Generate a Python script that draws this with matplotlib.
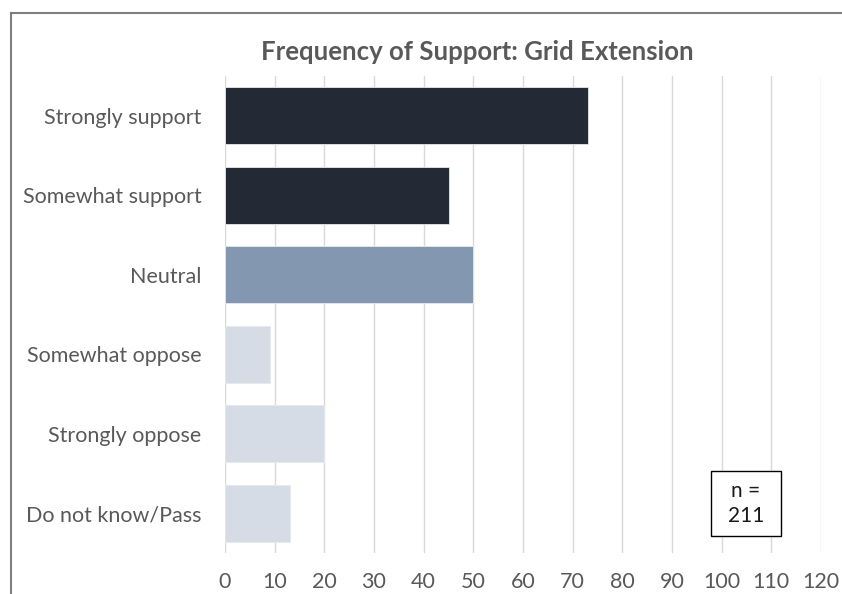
import matplotlib
matplotlib.use("Agg")
import matplotlib.pyplot as plt
from matplotlib.lines import Line2D
from matplotlib.patches import Rectangle

categories = ["Strongly support", "Somewhat support", "Neutral",
              "Somewhat oppose", "Strongly oppose", "Do not know/Pass"]
values = [73, 45, 50, 9, 20, 13]
colors = ["#232a36", "#232a36", "#8497b0", "#d6dce5", "#d6dce5", "#d6dce5"]
xticks = list(range(0, 121, 10))
title = "Frequency of Support: Grid Extension"
note = "n =\n211"

W, H = 842, 594
fig = plt.figure(figsize=(W / 100, H / 100), dpi=100)
plt.rcParams['font.family'] = ['Lato', 'DejaVu Sans']

ax = fig.add_axes([225 / W, 1 - 553 / H, (821 - 225) / W, (553 - 76) / H])
ypos = list(range(len(categories)))
ax.barh(ypos, values, height=0.72, color=colors, edgecolor="#e6e9ee", linewidth=0.6, zorder=3)
ax.set_ylim(len(categories) - 0.5, -0.5)
ax.set_xlim(0, 120)
ax.set_xticks(xticks)
ax.set_xticklabels([str(t) for t in xticks])
ax.set_yticks(ypos)
ax.set_yticklabels(categories)
ax.tick_params(axis="both", length=0, labelsize=15.5, colors="#595959")
ax.tick_params(axis="x", pad=14)
ax.tick_params(axis="y", pad=17)
ax.grid(axis="x", color="#d9d9d9", linewidth=1.0, zorder=0)
ax.set_axisbelow(True)
for s in ax.spines.values():
    s.set_visible(False)

# n box
ax.add_patch(Rectangle((0.8154, 0.0356), 0.1174, 0.136, transform=ax.transAxes,
                       facecolor="white", edgecolor="black", linewidth=1.0, zorder=5))
ax.text(0.874, 0.1035, note, transform=ax.transAxes, ha="center", va="center",
        fontsize=15, color="#1a1a1a", linespacing=1.35, zorder=6)

fig.text(477.5 / W, 1 - 52 / H, title, ha="center", va="center",
         fontsize=18.5, fontweight="bold", color="#595959")

# outer frame lines (top and left)
fig.add_artist(Line2D([11 / W, 1], [1 - 13 / H, 1 - 13 / H], transform=fig.transFigure,
                      color="#7f7f7f", linewidth=1.5))
fig.add_artist(Line2D([11 / W, 11 / W], [0, 1 - 13 / H], transform=fig.transFigure,
                      color="#7f7f7f", linewidth=1.5))

fig.savefig("out.png", dpi=100)
